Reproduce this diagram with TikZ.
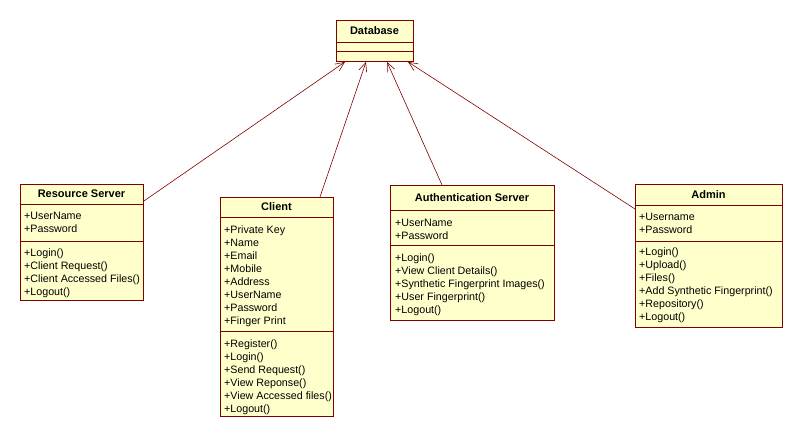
\documentclass[tikz,border=0pt]{standalone}
\usepackage{fontspec}
\setmainfont{Liberation Sans}
\usetikzlibrary{arrows.meta,calc}
\definecolor{umlred}{RGB}{128,0,0}
\definecolor{umlfill}{RGB}{255,255,204}
\tikzset{
  classbox/.style={draw=umlred,fill=umlfill,line width=0.9pt,inner sep=0pt,anchor=north west},
  classline/.style={draw=umlred,line width=0.9pt},
  classtitle/.style={font=\bfseries\fontsize{11}{13}\selectfont,inner sep=0pt},
  member/.style={font=\fontsize{10.7}{13}\selectfont,inner sep=0pt,anchor=base west},
  uses/.style={draw=umlred,line width=0.6pt,-{Straight Barb[length=9pt,width=8pt]}}
}
\begin{document}
\begin{tikzpicture}[x=1pt,y=-1pt]
  \useasboundingbox[fill=white] (0,0) rectangle (803,440);

  % Database
  \node[classbox,minimum width=77pt,minimum height=41pt] (db) at (336,20) {};
  \draw[classline] (336,42) -- (413,42) (336,51) -- (413,51);
  \node[classtitle] (db-t) at (374.5,31) {Database};

  % Resource Server
  \node[classbox,minimum width=123pt,minimum height=116pt] (rs) at (20,184) {};
  \draw[classline] (20,204) -- (143,204) (20,241) -- (143,241);
  \node[classtitle] (rs-t) at (81.5,194) {Resource Server};
  \foreach \txt [count=\i] in {+UserName,+Password}
    \node[member] (rs-a\i) at (24,206+13*\i) {\txt};
  \foreach \txt [count=\i] in {+Login(),+Client Request(),+Client Accessed Files(),+Logout()}
    \node[member] (rs-o\i) at (24,243+13*\i) {\txt};

  % Client
  \node[classbox,minimum width=113pt,minimum height=219pt] (cl) at (220,197) {};
  \draw[classline] (220,217) -- (333,217) (220,331) -- (333,331);
  \node[classtitle] (cl-t) at (276.5,207) {Client};
  \foreach \txt [count=\i] in {+Private Key,+Name,+Email,+Mobile,+Address,+UserName,+Password,+Finger Print}
    \node[member] (cl-a\i) at (224,220+13*\i) {\txt};
  \foreach \txt [count=\i] in {+Register(),+Login(),+Send Request(),+View Reponse(),+View Accessed files(),+Logout()}
    \node[member] (cl-o\i) at (224,334+13*\i) {\txt};

  % Authentication Server
  \node[classbox,minimum width=164pt,minimum height=135pt] (as) at (390,185) {};
  \draw[classline] (390,210) -- (554,210) (390,245) -- (554,245);
  \node[classtitle] (as-t) at (472,197.5) {Authentication Server};
  \foreach \txt [count=\i] in {+UserName,+Password}
    \node[member] (as-a\i) at (395,213+13*\i) {\txt};
  \foreach \txt [count=\i] in {+Login(),+View Client Details(),+Synthetic Fingerprint Images(),+User Fingerprint(),+Logout()}
    \node[member] (as-o\i) at (395,248+13*\i) {\txt};

  % Admin
  \node[classbox,minimum width=147pt,minimum height=143pt] (ad) at (635,184) {};
  \draw[classline] (635,205) -- (782,205) (635,241) -- (782,241);
  \node[classtitle] (ad-t) at (708.5,194.5) {Admin};
  \foreach \txt [count=\i] in {+Username,+Password}
    \node[member] (ad-a\i) at (639,207+13*\i) {\txt};
  \foreach \txt [count=\i] in {+Login(),+Upload(),+Files(),+Add Synthetic Fingerprint(),+Repository(),+Logout()}
    \node[member] (ad-o\i) at (639,242+13*\i) {\txt};

  % dependencies on the database
  \draw[uses] ($(rs.north east)+(0,17)$) -- ($(db.south west)+(9,0)$);
  \draw[uses] ($(cl.north west)+(100,0)$) -- ($(db.south west)+(30,0)$);
  \draw[uses] ($(as.north west)+(52,0)$) -- ($(db.south west)+(51,0)$);
  \draw[uses] ($(ad.north west)+(0,25)$) -- ($(db.south west)+(72,0)$);
\end{tikzpicture}
\end{document}
